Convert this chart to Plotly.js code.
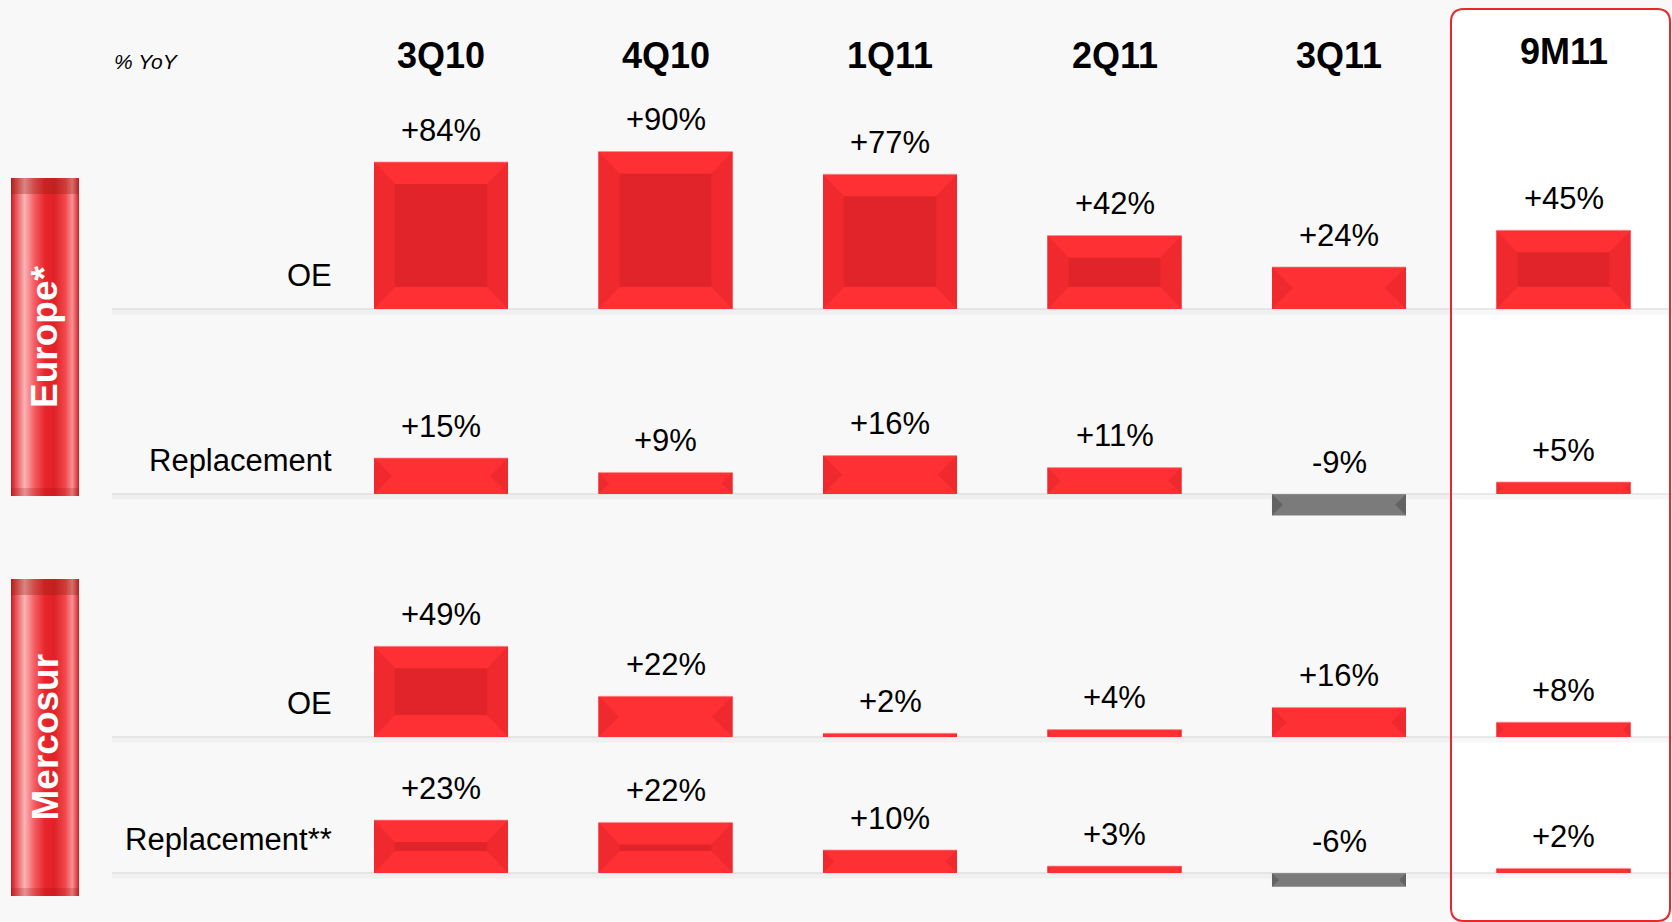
<!DOCTYPE html>
<html>
<head>
<meta charset="utf-8">
<script src="https://cdn.plot.ly/plotly-3.0.1.min.js"></script>
<style>
  html, body { margin: 0; padding: 0; background: #f8f8f8; }
  #graph { width: 1672px; height: 922px; }
</style>
</head>
<body>
<div id="graph"></div>
<script>
// values (% YoY)
const periods = ['3Q10', '4Q10', '1Q11', '2Q11', '3Q11', '9M11'];
const europeOE = [84, 90, 77, 42, 24, 45];
const europeRepl = [15, 9, 16, 11, -9, 5];
const mercosurOE = [49, 22, 2, 4, 16, 8];
const mercosurRepl = [23, 22, 10, 3, -6, 2];
const rowLabels = ['OE', 'Replacement', 'OE', 'Replacement**'];
const regions = ['Europe*', 'Mercosur'];
const unitLabel = '% YoY';

const W = 1672, H = 922;
const SLOT = 224.5;   // px between column centres
const X0 = 441;       // px centre of first column
const BAR_W = 0.597;
const FONT = 'Liberation Sans, Arial, sans-serif';

// each row gets its own hidden y axis: baseline pixel and px per %
const rows = [
  { values: europeOE, base: 309, scale: 1.75 },
  { values: europeRepl, base: 494, scale: 2.4 },
  { values: mercosurOE, base: 737, scale: 1.85 },
  { values: mercosurRepl, base: 873, scale: 2.3 }
];

const px = x => x / W;
const py = y => 1 - y / H;

const traces = [];
const shapes = [];
const annotations = [];
const layout = {
  width: W,
  height: H,
  margin: { l: 0, r: 0, t: 0, b: 0 },
  paper_bgcolor: '#f8f8f8',
  plot_bgcolor: 'rgba(0,0,0,0)',
  showlegend: false,
  barmode: 'overlay',
  xaxis: { range: [-X0 / SLOT, (W - X0) / SLOT], visible: false, fixedrange: true },
  xaxis2: { range: [0, W], overlaying: 'x', visible: false, fixedrange: true },
  yaxis5: { range: [H, 0], overlaying: 'y', visible: false, fixedrange: true },
  shapes: shapes,
  annotations: annotations
};

// 9M11 highlight box (white fill below, red border above)
function roundBox(x0, y0, x1, y1, r) {
  const rx = r / W, ry = r / H;
  const a = px(x0), b = px(x1), t = py(y0), u = py(y1);
  return `M ${a + rx},${t} L ${b - rx},${t} Q ${b},${t} ${b},${t - ry} ` +
    `L ${b},${u + ry} Q ${b},${u} ${b - rx},${u} L ${a + rx},${u} ` +
    `Q ${a},${u} ${a},${u + ry} L ${a},${t - ry} Q ${a},${t} ${a + rx},${t} Z`;
}
const boxPath = roundBox(1451, 9, 1670, 921, 13);
shapes.push({ type: 'path', path: boxPath, xref: 'paper', yref: 'paper',
  fillcolor: '#ffffff', line: { width: 0 }, layer: 'below' });

rows.forEach((row, k) => {
  const yname = k === 0 ? 'y' : 'y' + (k + 1);
  const axisKey = k === 0 ? 'yaxis' : 'yaxis' + (k + 1);
  layout[axisKey] = {
    range: [(row.base - H) / row.scale, row.base / row.scale],
    visible: false,
    fixedrange: true
  };
  if (k > 0) layout[axisKey].overlaying = 'y';

  // baseline with a soft shadow
  shapes.push({ type: 'line', xref: 'paper', yref: 'paper',
    x0: px(112), x1: 1, y0: py(row.base + 3), y1: py(row.base + 3),
    line: { color: 'rgba(0,0,0,0.03)', width: 5 }, layer: 'below' });
  shapes.push({ type: 'line', xref: 'paper', yref: 'paper',
    x0: px(112), x1: 1, y0: py(row.base), y1: py(row.base),
    line: { color: '#d4d4d4', width: 1.2 }, layer: 'below' });

  traces.push({
    type: 'bar',
    x: periods.map((p, i) => i),
    y: row.values,
    width: BAR_W,
    yaxis: yname,
    marker: { color: row.values.map(v => v < 0 ? '#7b7b7b' : '#ff3034'), line: { width: 0 } },
    hovertext: periods.map((p, i) => rowLabels[k] + ' ' + p),
    hoverinfo: 'text+y'
  });

  // bevel facets
  row.values.forEach((v, i) => {
    const neg = v < 0;
    const hPx = Math.abs(v) * row.scale;
    const dyPx = Math.min(22, hPx / 2);
    const dxPx = Math.min(21, hPx / 2);
    const dx = dxPx / SLOT, dy = dyPx / row.scale;
    const L = i - BAR_W / 2, R = i + BAR_W / 2;
    const top = Math.max(v, 0), bot = Math.min(v, 0);
    const side = neg ? '#636363' : '#ef292d';
    const inner = neg ? '#777777' : '#e1242a';
    shapes.push({ type: 'path', xref: 'x', yref: yname, layer: 'above',
      path: `M ${L},${bot} L ${L},${top} L ${L + dx},${top - dy} L ${L + dx},${bot + dy} Z`,
      fillcolor: side, line: { width: 0 } });
    shapes.push({ type: 'path', xref: 'x', yref: yname, layer: 'above',
      path: `M ${R},${bot} L ${R},${top} L ${R - dx},${top - dy} L ${R - dx},${bot + dy} Z`,
      fillcolor: side, line: { width: 0 } });
    if (top - dy > bot + dy) {
      shapes.push({ type: 'rect', xref: 'x', yref: yname, layer: 'above',
        x0: L + dx, x1: R - dx, y0: bot + dy, y1: top - dy,
        fillcolor: inner, line: { width: 0 } });
    }
    // faint highlight on the top edge
    shapes.push({ type: 'line', xref: 'x', yref: yname, layer: 'above',
      x0: L, x1: R, y0: top, y1: top,
      line: { color: neg ? 'rgba(255,255,255,0.25)' : 'rgba(255,140,140,0.7)', width: 1 } });
    annotations.push({
      x: i, xref: 'x', y: top, yref: yname, yshift: 32,
      text: (v > 0 ? '+' : '') + v + '%',
      showarrow: false, xanchor: 'center', yanchor: 'middle',
      font: { family: FONT, size: 31, color: '#000' }
    });
  });

  annotations.push({
    x: px(334), xref: 'paper', y: 0, yref: yname, yshift: 34,
    text: rowLabels[k], showarrow: false, xanchor: 'right', yanchor: 'middle',
    font: { family: FONT, size: 31, color: '#000' }
  });
});

shapes.push({ type: 'path', path: boxPath, xref: 'paper', yref: 'paper',
  fillcolor: 'rgba(0,0,0,0)', line: { color: '#e8262b', width: 2 }, layer: 'above' });

// column headers
periods.forEach((p, i) => {
  annotations.push({
    x: i, xref: 'x', y: py(i === 5 ? 51 : 55), yref: 'paper',
    text: '<b>' + p + '</b>', showarrow: false, xanchor: 'center', yanchor: 'middle',
    font: { family: FONT, size: 36, color: '#000' }
  });
});
annotations.push({
  x: px(146), xref: 'paper', y: py(61), yref: 'paper',
  text: '<i>' + unitLabel + '</i>', showarrow: false, xanchor: 'center', yanchor: 'middle',
  font: { family: FONT, size: 21, color: '#000' }
});

// glossy region tabs
const tabs = [[178, 496], [579, 896]];
regions.forEach((name, r) => {
  const [t, b] = tabs[r];
  traces.push({
    type: 'scatter', mode: 'lines', xaxis: 'x2', yaxis: 'y5',
    x: [11, 79, 79, 11, 11], y: [t, t, b, b, t],
    fill: 'toself', line: { width: 0 }, hoverinfo: 'skip',
    fillgradient: {
      type: 'horizontal',
      colorscale: [[0, '#c81d22'], [0.06, '#e4474c'], [0.2, '#fbb3b5'], [0.34, '#f45f63'],
        [0.5, '#e8252b'], [0.64, '#de2228'], [0.8, '#f2484c'], [0.9, '#f99396'], [1, '#d21f25']]
    }
  });
  shapes.push({ type: 'rect', xref: 'paper', yref: 'paper',
    x0: px(11), x1: px(79), y0: py(t), y1: py(t + 16),
    fillcolor: 'rgba(130,30,10,0.3)', line: { width: 0 }, layer: 'above' });
  shapes.push({ type: 'rect', xref: 'paper', yref: 'paper',
    x0: px(11), x1: px(79), y0: py(b - 8), y1: py(b),
    fillcolor: 'rgba(150,10,10,0.2)', line: { width: 0 }, layer: 'above' });
  annotations.push({
    x: px(45), xref: 'paper', y: py((t + b) / 2), yref: 'paper',
    text: '<b>' + name + '</b>', textangle: -90, showarrow: false,
    xanchor: 'center', yanchor: 'middle',
    font: { family: FONT, size: 37, color: '#ffffff' }
  });
});

Plotly.newPlot('graph', traces, layout, { displayModeBar: false });
</script>
</body>
</html>
